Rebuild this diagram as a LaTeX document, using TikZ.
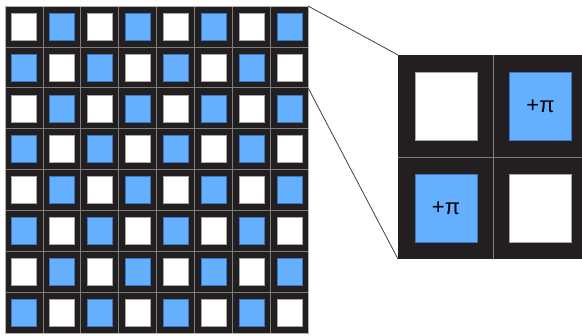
\documentclass[tikz,border=0pt]{standalone}
\usepackage{fontspec}
\setmainfont{Liberation Sans}
\definecolor{bluesq}{RGB}{100,176,255}
\definecolor{blueedge}{RGB}{60,120,190}
\definecolor{bgdark}{RGB}{35,31,32}
\definecolor{divider}{RGB}{125,125,125}
\begin{document}
\begin{tikzpicture}[x=1pt,y=-1pt,
  bgfill/.style={fill=bgdark},
  divline/.style={draw=divider,line width=0.6pt},
  wsq/.style={draw=gray!70,fill=white,line width=0.5pt,inner sep=0pt},
  bsq/.style={draw=blueedge,fill=bluesq,line width=0.5pt,inner sep=0pt},
  smallsq/.style={minimum width=25pt,minimum height=27pt},
  bigsq/.style={minimum width=62pt,minimum height=68pt,font=\fontsize{22}{22}\selectfont},
  conn/.style={draw=black!75,line width=0.8pt}]
\useasboundingbox (0,0) rectangle (582,336);
% left grid
\fill[bgfill] (5,6) rectangle (308,333);
\foreach \i in {1,...,7}{
  \draw[divline] ({5+\i*37.875},6) -- ({5+\i*37.875},333);
  \draw[divline] (5,{6+\i*40.875}) -- (308,{6+\i*40.875});
}
\draw[draw=divider!60,line width=0.4pt] (5,6) rectangle (308,333);
\foreach \c in {0,...,7}{
  \foreach \r in {0,...,7}{
    \ifodd\numexpr\c+\r\relax
      \node[bsq,smallsq] (s\c\r) at ({5+\c*37.875+19.2},{6+\r*40.875+20.6}) {};
    \else
      \node[wsq,smallsq] (s\c\r) at ({5+\c*37.875+19.2},{6+\r*40.875+20.6}) {};
    \fi
  }
}
% right zoomed grid
\fill[bgfill] (398,55) rectangle (588,259);
\draw[divline] (493,55) -- (493,259);
\draw[divline] (398,157) -- (588,157);
\node[wsq,bigsq] (z00) at (446,106) {};
\node[bsq,bigsq] (z10) at (540.5,106) {+π};
\node[bsq,bigsq] (z01) at (446,208.5) {+π};
\node[wsq,bigsq] (z11) at (540.5,208.5) {};
% connectors
\coordinate (L1) at (308,6);
\coordinate (L2) at (308,87.75);
\coordinate (R1) at (398,55);
\coordinate (R2) at (398,259);
\draw[conn] (L1) -- (R1);
\draw[conn] (L2) -- (R2);
\end{tikzpicture}
\end{document}
